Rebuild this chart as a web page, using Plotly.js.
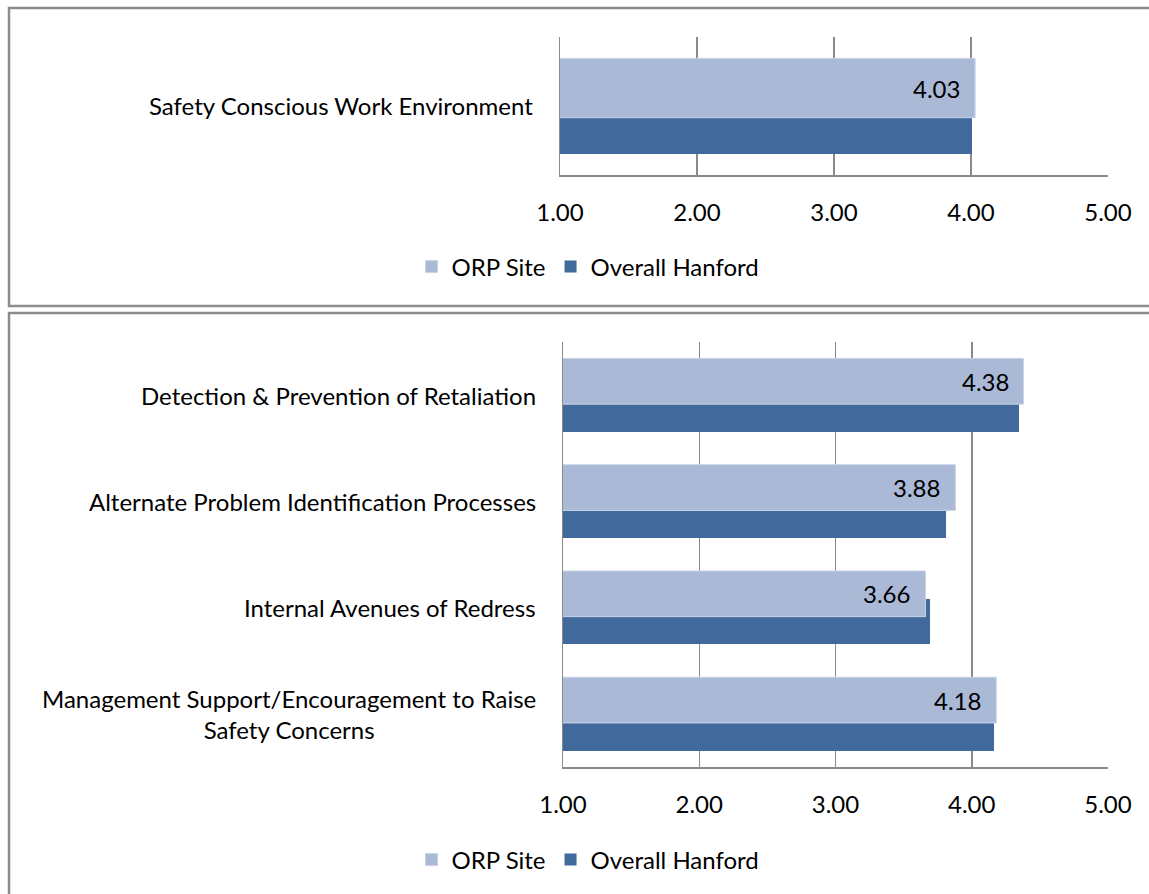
<!DOCTYPE html>
<html>
<head>
<meta charset="utf-8">
<script src="https://cdn.plot.ly/plotly-3.0.1.min.js"></script>
<style>
  html, body { margin: 0; padding: 0; background: #ffffff; }
  #chart { width: 1149px; height: 894px; }
</style>
</head>
<body>
<div id="chart"></div>
<script>
// Survey scores (1-5 scale): ORP Site vs. Overall Hanford
const seriesNames = ['ORP Site', 'Overall Hanford'];

const topCategories = ['Safety Conscious Work Environment'];
const topOrp = [4.03];
const topHanford = [4.01];

const bottomCategories = [
  'Detection & Prevention of Retaliation',
  'Alternate Problem Identification Processes',
  'Internal Avenues of Redress',
  'Management Support/Encouragement to Raise<br>Safety Concerns'
];
const bottomOrp = [4.38, 3.88, 3.66, 4.18];
const bottomHanford = [4.35, 3.81, 3.69, 4.16];

const xTickValues = [1, 2, 3, 4, 5];
const xTickLabels = ['1.00', '2.00', '3.00', '4.00', '5.00'];

// ---- styling ----
const W = 1149, H = 894;
const FONT = 'Lato, "Liberation Sans", sans-serif';
const FS = 24;
const LIGHT = '#aab9d6';
const DARK = '#41699b';
const GRID = '#8a8a8a';
const BAR_W = 0.43;
const ORP_OFFSET = -0.345;   // upper bar of each pair
const HAN_OFFSET = -0.085;   // lower bar, partly behind the upper one

const px = v => v / W;          // pixel x -> paper x
const py = v => 1 - v / H;      // pixel y -> paper y

function xAxis(domain, anchor) {
  return {
    domain: domain, anchor: anchor, range: [1, 5], fixedrange: true,
    tickvals: xTickValues, ticktext: xTickLabels,
    tickfont: { family: FONT, size: FS, color: '#000' },
    showgrid: true, gridcolor: GRID, gridwidth: 1.5,
    showline: true, linecolor: GRID, linewidth: 1.5,
    ticks: '', ticklabelstandoff: 16, zeroline: false
  };
}
function yAxis(domain, anchor, n) {
  return {
    domain: domain, anchor: anchor, type: 'category',
    range: [n - 0.5, -0.5], fixedrange: true,
    showticklabels: false, showgrid: false, zeroline: false,
    showline: true, linecolor: GRID, linewidth: 1.5, ticks: ''
  };
}

function barPair(cats, orp, han, xa, ya, legendId) {
  return [
    {
      type: 'bar', orientation: 'h', name: seriesNames[1],
      y: cats, x: han, xaxis: xa, yaxis: ya,
      width: BAR_W, offset: HAN_OFFSET,
      marker: { color: DARK }, legend: legendId, legendrank: 2,
      hoverinfo: 'x'
    },
    {
      type: 'bar', orientation: 'h', name: seriesNames[0],
      y: cats, x: orp, xaxis: xa, yaxis: ya,
      width: BAR_W, offset: ORP_OFFSET,
      marker: { color: LIGHT, line: { color: '#c9d3e6', width: 1 } },
      legend: legendId, legendrank: 1,
      hoverinfo: 'x'
    }
  ];
}

const data = [].concat(
  barPair(topCategories, topOrp, topHanford, 'x', 'y', 'legend'),
  barPair(bottomCategories, bottomOrp, bottomHanford, 'x2', 'y2', 'legend2')
);

// Category labels (right-aligned block, centred lines)
const annotations = [];
function categoryLabels(cats, ya, rightPx) {
  cats.forEach(c => annotations.push({
    xref: 'paper', yref: ya, x: px(rightPx), y: c,
    xanchor: 'right', yanchor: 'middle', align: 'center',
    text: c, showarrow: false,
    font: { family: FONT, size: FS, color: '#000' }
  }));
}
// Value labels at the inner end of the ORP bars
function valueLabels(cats, vals, xa, ya, bandPx) {
  cats.forEach((c, i) => annotations.push({
    xref: xa, yref: ya, x: vals[i], y: c,
    xanchor: 'right', yanchor: 'middle', xshift: -13,
    yshift: bandPx * (-(ORP_OFFSET + BAR_W / 2)),
    text: vals[i].toFixed(2), showarrow: false,
    font: { family: FONT, size: FS, color: '#000' }
  }));
}

const topPlot = { x0: 560, x1: 1108, y0: 37, y1: 175 };
const botPlot = { x0: 563, x1: 1108, y0: 342, y1: 767 };

categoryLabels(topCategories, 'y', 535);
categoryLabels(bottomCategories, 'y2', 538);
valueLabels(topCategories, topOrp, 'x', 'y', (topPlot.y1 - topPlot.y0) / topCategories.length);
valueLabels(bottomCategories, bottomOrp, 'x2', 'y2', (botPlot.y1 - botPlot.y0) / bottomCategories.length);

const legendStyle = (yPx) => ({
  orientation: 'h', x: px(588), xanchor: 'center', y: py(yPx), yanchor: 'middle',
  font: { family: FONT, size: FS, color: '#000' }, bgcolor: 'rgba(0,0,0,0)',
  itemwidth: 30
});

const layout = {
  width: W, height: H,
  margin: { l: 0, r: 0, t: 0, b: 0, pad: 0 },
  paper_bgcolor: '#ffffff', plot_bgcolor: '#ffffff',
  barmode: 'overlay', bargap: 0,
  font: { family: FONT, size: FS, color: '#000' },
  xaxis: xAxis([px(topPlot.x0), px(topPlot.x1)], 'y'),
  yaxis: yAxis([py(topPlot.y1), py(topPlot.y0)], 'x', topCategories.length),
  xaxis2: xAxis([px(botPlot.x0), px(botPlot.x1)], 'y2'),
  yaxis2: yAxis([py(botPlot.y1), py(botPlot.y0)], 'x2', bottomCategories.length),
  legend: legendStyle(267),
  legend2: legendStyle(860),
  showlegend: true,
  annotations: annotations,
  shapes: [
    { type: 'rect', xref: 'paper', yref: 'paper',
      x0: px(9), x1: px(1160), y0: py(306), y1: py(8),
      line: { color: '#8c8c8c', width: 2.5 }, fillcolor: 'rgba(0,0,0,0)', layer: 'below' },
    { type: 'rect', xref: 'paper', yref: 'paper',
      x0: px(9), x1: px(1160), y0: py(905), y1: py(313),
      line: { color: '#8c8c8c', width: 2.5 }, fillcolor: 'rgba(0,0,0,0)', layer: 'below' }
  ]
};

Plotly.newPlot('chart', data, layout, { displayModeBar: false, staticPlot: true });
</script>
</body>
</html>
